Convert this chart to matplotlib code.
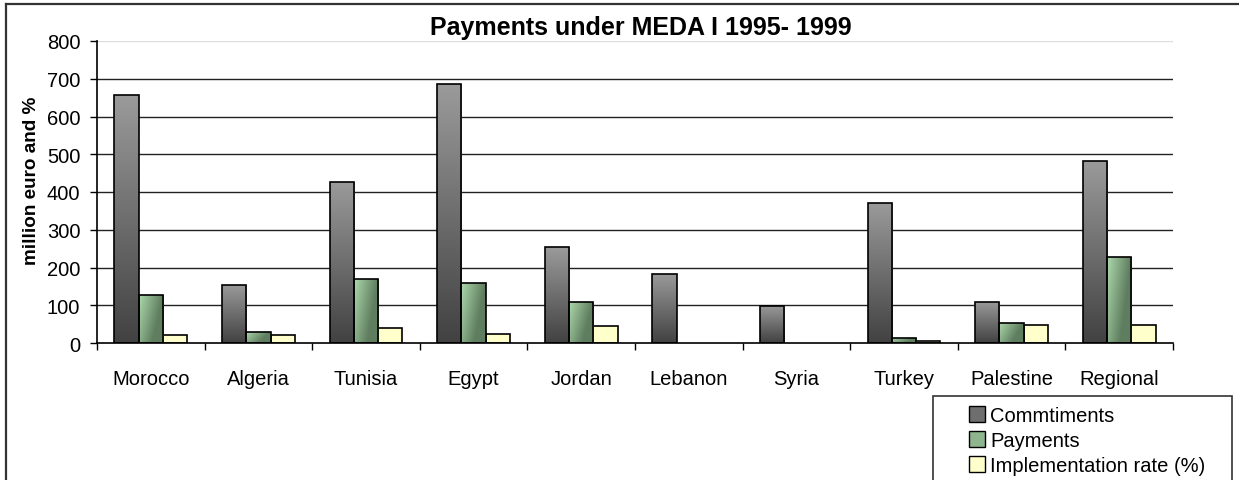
import numpy as np
import matplotlib
matplotlib.use('Agg')
import matplotlib.pyplot as plt
from matplotlib.colors import to_rgb
from matplotlib.patches import Rectangle, Patch
from matplotlib.lines import Line2D

plt.rcParams['font.family'] = ['Liberation Sans', 'DejaVu Sans']

countries = ['Morocco', 'Algeria', 'Tunisia', 'Egypt', 'Jordan', 'Lebanon',
             'Syria', 'Turkey', 'Palestine', 'Regional']
commitments = [656, 154, 427, 686, 253, 184, 99, 372, 109, 483]
payments = [128, 30, 170, 158, 109, np.nan, np.nan, 14, 54, 228]
impl_rate = [20, 20, 40, 25, 45, np.nan, np.nan, 5, 49, 49]
series_names = ['Commtiments', 'Payments', 'Implementation rate (%)']

W, H = 1239, 481
fig = plt.figure(figsize=(W / 100, H / 100), dpi=100)
ax = fig.add_axes([97 / W, 1 - 344 / H, (1173 - 97) / W, (344 - 42) / H])

x = np.arange(len(countries))
bw = 0.225
b1 = ax.bar(x - bw, commitments, bw, facecolor='#6e6e6e', edgecolor='black', lw=1.2, zorder=3)
b2 = ax.bar(x, payments, bw, facecolor='#8fb58f', edgecolor='black', lw=1.2, zorder=3)
b3 = ax.bar(x + bw, impl_rate, bw, facecolor='#ffffcc', edgecolor='black', lw=1.2, zorder=3)


def shade(bars, img):
    for b in bars:
        h = b.get_height()
        if not np.isfinite(h) or h <= 0:
            continue
        x0 = b.get_x()
        im = ax.imshow(img, extent=[x0, x0 + b.get_width(), 0, h], aspect='auto',
                       origin='upper', interpolation='bilinear', zorder=3.1)
        im.set_clip_path(b)
        b.set_facecolor('none')
        b.set_zorder(3.2)


# vertical grey gradient for commitments
top, bot = np.array(to_rgb('#9a9a9a')), np.array(to_rgb('#424242'))
t = np.linspace(0, 1, 64)[:, None, None]
grey = (top * (1 - t) + bot * t) * np.ones((1, 8, 1))
shade(b1, grey)

# green gradient for payments, light at top left
light, dark = np.array(to_rgb('#c6f7c6')), np.array(to_rgb('#5f7d5f'))
u = np.linspace(0, 1, 32)[None, :, None]
v = np.linspace(0, 1, 32)[:, None, None]
k = np.clip(0.25 + 0.75 * u + 0.35 * v, 0, 1)
green = light * (1 - k) + dark * k
shade(b2, green)

ax.set_xlim(-0.5, len(countries) - 0.5)
ax.set_ylim(0, 800)
ax.set_yticks(range(0, 801, 100))
for yv in range(100, 800, 100):
    ax.axhline(yv, color='#222222', lw=1.0, zorder=1)
ax.axhline(800, color='#dddddd', lw=1.0, zorder=1)

ax.set_xticks(x)
ax.set_xticklabels(countries, fontsize=14.5)
ax.set_xticks(np.arange(-0.5, len(countries)), minor=True)
ax.tick_params(axis='x', which='major', length=0, pad=19)
ax.tick_params(axis='x', which='minor', length=5, width=1, direction='out')
ax.tick_params(axis='y', length=5, width=1, labelsize=14.5, pad=7)

for s in ['top', 'right']:
    ax.spines[s].set_visible(False)
for s in ['left', 'bottom']:
    ax.spines[s].set_color('black')
    ax.spines[s].set_linewidth(1.2)
    ax.spines[s].set_zorder(4)

ax.set_ylabel('million euro and %', fontsize=13.6, fontweight='bold')
ax.yaxis.set_label_coords(-0.053, 0.54)
fig.text(641 / W, 1 - 28 / H, 'Payments under MEDA I 1995- 1999', fontsize=18,
         fontweight='bold', ha='center', va='center')

# outer chart frame (cut off at right and bottom)
fig.add_artist(Line2D([6 / W, 1.0], [1 - 5 / H, 1 - 5 / H], transform=fig.transFigure,
                      color='#333333', lw=1.6))
fig.add_artist(Line2D([6 / W, 6 / W], [0, 1 - 5 / H], transform=fig.transFigure,
                      color='#333333', lw=1.6))

# legend box
fig.add_artist(Rectangle((933 / W, -0.05), (1232 - 933) / W, 0.05 + 1 - 397 / H,
                         transform=fig.transFigure, facecolor='white',
                         edgecolor='#333333', lw=1.2))
handles = [Patch(facecolor='#6e6e6e', edgecolor='black'),
           Patch(facecolor='#8fb58f', edgecolor='black'),
           Patch(facecolor='#ffffcc', edgecolor='black')]
leg = fig.legend(handles, series_names, loc='upper left',
                 bbox_to_anchor=(955 / W, 1 - 393 / H), frameon=False, fontsize=14.5,
                 handlelength=0.8, handleheight=0.8, handletextpad=0.25,
                 labelspacing=0.3, borderpad=0.2)

fig.savefig('out.png', dpi=100)
